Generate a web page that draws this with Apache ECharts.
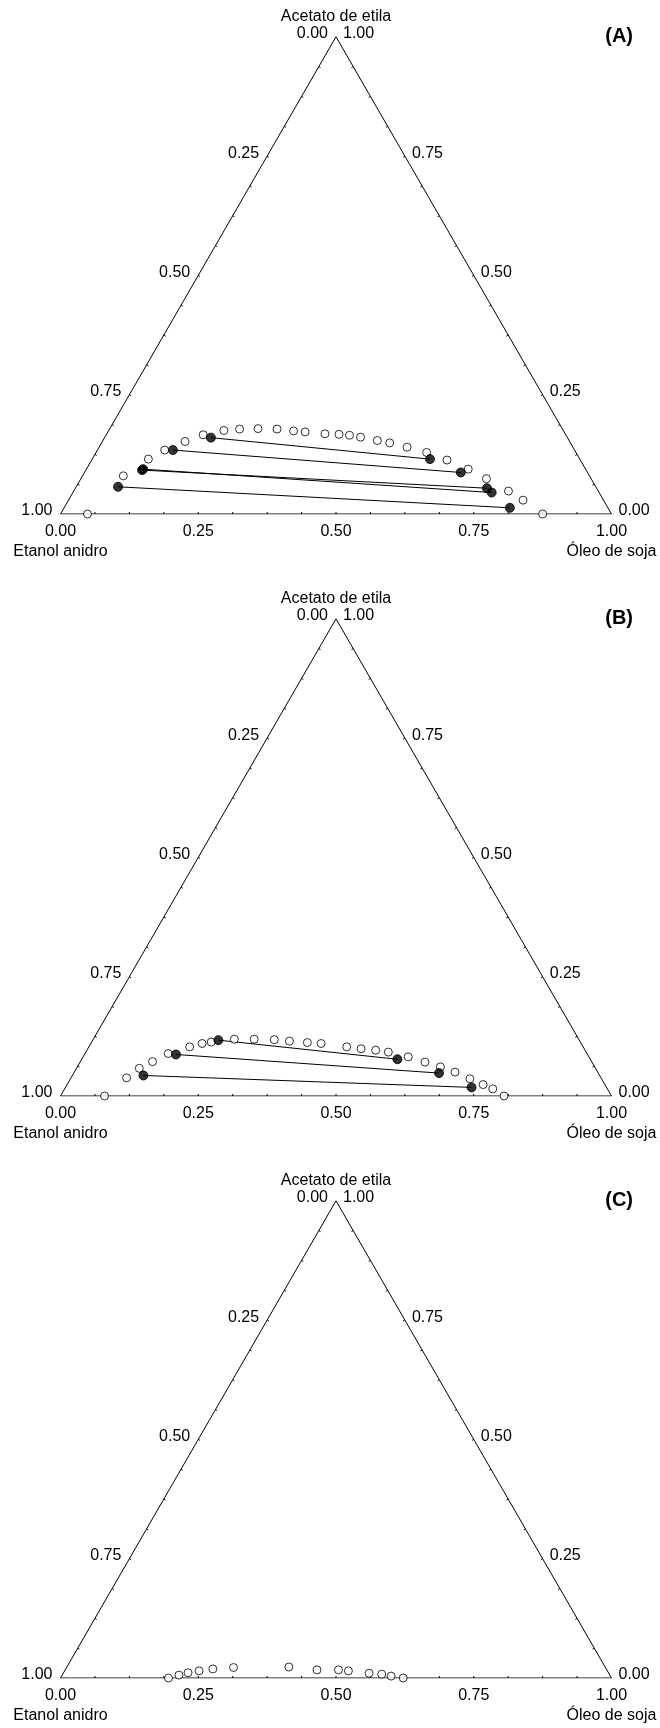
<!DOCTYPE html>
<html>
<head>
<meta charset="utf-8">
<script src="https://cdn.jsdelivr.net/npm/echarts@6/dist/echarts.min.js"></script>
<style>
  html, body { margin: 0; padding: 0; background: #fff; }
  #chart { width: 660px; height: 1728px; }
</style>
</head>
<body>
<div id="chart"></div>
<script>
// Compositions are given as [Óleo de soja, Acetato de etila] mass fractions;
// Etanol anidro is the remainder (1 - óleo - acetato).

// Panel (A)
const aBinodal = [
  [0.049, 0], [0.074, 0.080], [0.102, 0.115], [0.122, 0.134], [0.150, 0.152],
  [0.176, 0.166], [0.209, 0.175], [0.236, 0.178], [0.269, 0.179], [0.304, 0.178],
  [0.336, 0.174], [0.358, 0.172], [0.396, 0.168], [0.422, 0.167], [0.442, 0.165],
  [0.464, 0.161], [0.498, 0.154], [0.523, 0.149], [0.559, 0.140], [0.600, 0.129],
  [0.645, 0.113], [0.693, 0.094], [0.736, 0.074], [0.789, 0.048], [0.825, 0.029],
  [0.875, 0]
];
const aTieEthanolPhase = [[0.193, 0.160], [0.137, 0.134], [0.102, 0.092], [0.103, 0.094], [0.076, 0.057]];
const aTieOilPhase     = [[0.613, 0.115], [0.683, 0.087], [0.747, 0.054], [0.760, 0.045], [0.809, 0.013]];

// Panel (B)
const bBinodal = [
  [0.080, 0], [0.101, 0.038], [0.114, 0.058], [0.131, 0.072], [0.151, 0.089],
  [0.183, 0.103], [0.202, 0.110], [0.217, 0.113], [0.256, 0.119], [0.292, 0.119],
  [0.329, 0.118], [0.358, 0.115], [0.392, 0.112], [0.418, 0.110], [0.468, 0.103],
  [0.496, 0.099], [0.524, 0.096], [0.549, 0.092], [0.590, 0.082], [0.626, 0.071],
  [0.659, 0.061], [0.691, 0.050], [0.725, 0.036], [0.755, 0.024], [0.777, 0.015],
  [0.805, 0]
];
const bTieEthanolPhase = [[0.228, 0.117], [0.166, 0.087], [0.129, 0.043]];
const bTieOilPhase     = [[0.573, 0.077], [0.663, 0.048], [0.737, 0.018]];

// Panel (C)
const cBinodal = [
  [0.196, 0], [0.212, 0.006], [0.226, 0.011], [0.244, 0.015], [0.267, 0.019],
  [0.303, 0.022], [0.403, 0.023], [0.457, 0.017], [0.496, 0.017], [0.515, 0.015],
  [0.555, 0.010], [0.579, 0.008], [0.598, 0.004], [0.622, 0]
];
const cTieEthanolPhase = [];
const cTieOilPhase = [];

// Axis text
const vertexNames = { top: 'Acetato de etila', left: 'Etanol anidro', right: 'Óleo de soja' };
const panelTags = ['(A)', '(B)', '(C)'];
const tickValues = [0, 0.25, 0.5, 0.75, 1];
const tickLabels = ['0.00', '0.25', '0.50', '0.75', '1.00'];
const minorTickStep = 0.0625;

const panels = [
  { binodal: aBinodal, tieL: aTieEthanolPhase, tieR: aTieOilPhase },
  { binodal: bBinodal, tieL: bTieEthanolPhase, tieR: bTieOilPhase },
  { binodal: cBinodal, tieL: cTieEthanolPhase, tieR: cTieOilPhase }
];

const FONT = '"Liberation Sans", Arial, sans-serif';
const GRID_LEFT = 60.5, GRID_W = 551, GRID_H = 477.2;
const BASELINES = [514, 1096, 1678];

// ternary [óleo, acetato] -> planar [x, y] with y = acetato fraction of the height
function cart(p) { return [p[0] + p[1] / 2, p[1]]; }

const grids = [], xAxes = [], yAxes = [], series = [], graphics = [];

panels.forEach((pn, i) => {
  grids.push({ left: GRID_LEFT, top: BASELINES[i] - GRID_H, width: GRID_W, height: GRID_H });
  xAxes.push({ gridIndex: i, type: 'value', min: 0, max: 1, show: false });
  yAxes.push({ gridIndex: i, type: 'value', min: 0, max: 1, show: false });

  // triangle frame
  series.push({
    type: 'line', xAxisIndex: i, yAxisIndex: i, silent: true, z: 1,
    data: [[0, 0], [1, 0], [0.5, 1], [0, 0]], symbol: 'none',
    lineStyle: { color: '#000', width: 1 }
  });

  // small inward ticks on each edge
  const ticks = [];
  for (let t = minorTickStep; t < 1 - 1e-9; t += minorTickStep) {
    ticks.push({ p: [t, 0], n: [0, -1] });                      // óleo (bottom)
    ticks.push({ p: [(1 - t) / 2, 1 - t], n: [0.866, 0.5] });   // etanol (left)
    ticks.push({ p: [1 - t / 2, t], n: [-0.866, 0.5] });        // acetato (right)
  }
  series.push({
    type: 'custom', xAxisIndex: i, yAxisIndex: i, silent: true, z: 1,
    encode: { x: 0, y: 1 },
    data: ticks.map(d => d.p),
    renderItem: (params, api) => {
      const d = ticks[params.dataIndex];
      const c = api.coord(d.p);
      return {
        type: 'line',
        shape: { x1: c[0], y1: c[1], x2: c[0] + d.n[0] * 2, y2: c[1] + d.n[1] * 2 },
        style: { stroke: '#000', lineWidth: 1 }
      };
    }
  });

  // tick labels and vertex names
  const labels = [];
  tickValues.forEach((v, k) => {
    labels.push({ p: [v, 0], dx: 0, dy: 18, align: 'center', text: tickLabels[k] });
    labels.push({ p: [(1 - v) / 2, 1 - v], dx: -8, dy: -3, align: 'right', text: tickLabels[k] });
    labels.push({ p: [1 - v / 2, v], dx: 7, dy: -3, align: 'left', text: tickLabels[k] });
  });
  labels.push({ p: [0.5, 1], dx: 0, dy: -20, align: 'center', text: vertexNames.top });
  labels.push({ p: [0, 0], dx: 0, dy: 38, align: 'center', text: vertexNames.left });
  labels.push({ p: [1, 0], dx: 0, dy: 38, align: 'center', text: vertexNames.right });
  series.push({
    type: 'custom', xAxisIndex: i, yAxisIndex: i, silent: true, z: 5, clip: false,
    encode: { x: 0, y: 1 },
    data: labels.map(d => d.p),
    renderItem: (params, api) => {
      const d = labels[params.dataIndex];
      const c = api.coord(d.p);
      return {
        type: 'text', x: c[0] + d.dx, y: c[1] + d.dy,
        style: {
          text: d.text, fill: '#000', fontSize: 16, fontFamily: FONT,
          align: d.align, verticalAlign: 'middle'
        }
      };
    }
  });

  // tie lines
  pn.tieL.forEach((l, k) => {
    series.push({
      type: 'line', xAxisIndex: i, yAxisIndex: i, silent: true, z: 2,
      data: [cart(l), cart(pn.tieR[k])], symbol: 'none',
      lineStyle: { color: '#000', width: 1 }
    });
  });

  // binodal points (open circles)
  series.push({
    type: 'scatter', xAxisIndex: i, yAxisIndex: i, silent: true, z: 3,
    data: pn.binodal.map(cart), symbol: 'circle', symbolSize: 8,
    itemStyle: { color: '#fff', borderColor: '#000', borderWidth: 1 }
  });

  // tie-line end points (filled circles)
  series.push({
    type: 'scatter', xAxisIndex: i, yAxisIndex: i, silent: true, z: 4,
    data: pn.tieL.concat(pn.tieR).map(cart), symbol: 'circle', symbolSize: 9,
    itemStyle: { color: '#000', borderColor: '#000', borderWidth: 1 }
  });

  graphics.push({
    type: 'text', x: 633, y: BASELINES[i] - 478,
    style: {
      text: panelTags[i], fill: '#000', fontSize: 20, fontWeight: 'bold', fontFamily: FONT,
      align: 'right', verticalAlign: 'middle'
    }
  });
});

const chart = echarts.init(document.getElementById('chart'), null, { renderer: 'canvas' });
chart.setOption({
  backgroundColor: '#fff',
  animation: false,
  grid: grids,
  xAxis: xAxes,
  yAxis: yAxes,
  series: series,
  graphic: graphics
});
</script>
</body>
</html>
